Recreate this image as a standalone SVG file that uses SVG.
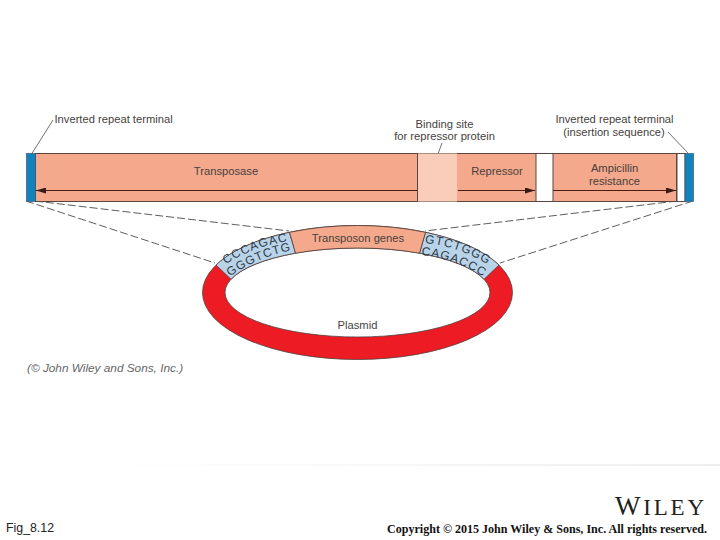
<svg xmlns="http://www.w3.org/2000/svg" width="720" height="540" viewBox="0 0 720 540">
<style>
.l{font-family:"Liberation Sans",Arial,sans-serif;font-size:11.2px;fill:#453f3d}
.m{text-anchor:middle}
.dna{font-family:"Liberation Sans",Arial,sans-serif;font-size:12px;fill:#2c3a48;letter-spacing:1px}
.e{stroke:#5a4640;stroke-width:1}
.b{stroke:#3d5a6a;stroke-width:.7}
.dash{fill:none;stroke:#333;stroke-width:.8;stroke-dasharray:8 3}
.lead{fill:none;stroke:#333;stroke-width:.7}
.arr{fill:none;stroke:#4a1c14;stroke-width:1}
.seg{stroke:#4d3f3a;stroke-width:.8}
</style>
<defs>
<marker id="ah" viewBox="0 0 10 6" refX="10" refY="3" markerWidth="10" markerHeight="6" markerUnits="userSpaceOnUse" orient="auto-start-reverse"><path d="M0 0L10 3L0 6Z" fill="#3a1a14"/></marker>
<linearGradient id="fade" x1="0" x2="1" y1="0" y2="0"><stop offset="0" stop-color="#fff"/><stop offset="1" stop-color="#eeeeee"/></linearGradient>
<path id="p1" d="M223 266Q255 245 291 241"/>
<path id="p2" d="M228 278Q258 256 294 250"/>
<path id="p3" d="M424 243Q458 246 489 265"/>
<path id="p4" d="M421 255Q454 258 484 277"/>
</defs>
<rect width="720" height="540" fill="#fff"/>
<rect x="100" y="464" width="620" height="2" fill="url(#fade)"/>
<g id="connectors">
<path class="dash" d="M26 201L215 263"/>
<path class="dash" d="M35 201L289 231"/>
<path class="dash" d="M677 201L425 231"/>
<path class="dash" d="M693 201L500 263"/>
<path class="lead" d="M53 120L29 158"/>
<path class="lead" d="M668 132L688 153"/>
<path class="lead" d="M442 143L435 162"/>
</g>
<g id="bar">
<rect x="35.500" y="153.500" width="641" height="48" fill="#f5a98c" class="e"/>
<rect x="417.500" y="153.500" width="39.500" height="48" fill="#f9cdb9"/>
<path class="e" d="M417.500 153.500V201.500"/>
<rect x="536" y="153.500" width="17" height="48" fill="#fff" class="e"/>
<rect x="677" y="153.500" width="8" height="48" fill="#fff" class="e"/>
<rect x="26.500" y="153.500" width="9" height="48" fill="#1282bd" class="b"/>
<rect x="685" y="153.500" width="8.500" height="48" fill="#1282bd" class="b"/>
<path class="arr" d="M417 190.500H36" marker-end="url(#ah)"/>
<path class="arr" d="M458 190.500H535" marker-end="url(#ah)"/>
<path class="arr" d="M553 190.500H676" marker-end="url(#ah)"/>
</g>
<g id="plasmid">
<path fill="#ed1c24" fill-rule="evenodd" stroke="#4d3f3a" stroke-width=".8" d="M202.500 292.500A155 67 0 1 1 512.500 292.500A155 67 0 1 1 202.500 292.500ZM225 292.500A132.500 44.500 0 1 0 490 292.500A132.500 44.500 0 1 0 225 292.500Z"/>
<path class="seg" fill="#b9d3e8" d="M216 265A155 67 0 0 1 289.500 232.300L295.500 253.200A132.500 44.500 0 0 0 231 279.300Z"/>
<path class="seg" fill="#b9d3e8" d="M425.500 232.300A155 67 0 0 1 499 265L484 279.300A132.500 44.500 0 0 0 419.500 253.200Z"/>
<path class="seg" fill="#f5a98c" d="M289.500 232.300A155 67 0 0 1 425.500 232.300L419.500 253.200A132.500 44.500 0 0 0 295.500 253.200Z"/>
</g>
<g id="dna">
<text class="dna"><textPath href="#p1" startOffset="50%" text-anchor="middle">CCCAGAC</textPath></text>
<text class="dna"><textPath href="#p2" startOffset="50%" text-anchor="middle">GGGTCTG</textPath></text>
<text class="dna"><textPath href="#p3" startOffset="50%" text-anchor="middle">GTCTGGG</textPath></text>
<text class="dna"><textPath href="#p4" startOffset="50%" text-anchor="middle">CAGACCC</textPath></text>
</g>
<g id="labels">
<text class="l" x="54.500" y="122.500">Inverted repeat terminal</text>
<text class="l m" x="444.500" y="128">Binding site</text>
<text class="l m" x="444.500" y="140">for repressor protein</text>
<text class="l m" x="614.500" y="123">Inverted repeat terminal</text>
<text class="l m" x="614" y="135.500">(insertion sequence)</text>
<text class="l m" x="226" y="174.500">Transposase</text>
<text class="l m" x="497" y="174.500">Repressor</text>
<text class="l m" x="614.500" y="171.500">Ampicillin</text>
<text class="l m" x="614.500" y="184.500">resistance</text>
<text class="l m" x="358" y="241.500">Transposon genes</text>
<text class="l m" x="357.500" y="328.500">Plasmid</text>
<text x="27" y="372" font-family="Liberation Sans,Arial,sans-serif" font-size="11.800" font-style="italic" fill="#666">(© John Wiley and Sons, Inc.)</text>
</g>
<g id="footer">
<text x="6" y="532" font-family="Liberation Sans,Arial,sans-serif" font-size="12" fill="#222" textLength="48" lengthAdjust="spacingAndGlyphs">Fig_8.12</text>
<text x="615" y="515" font-family="Liberation Serif,Times New Roman,serif" font-size="23" fill="#222" textLength="89" lengthAdjust="spacing"><tspan font-size="27">W</tspan>ILEY</text>
<text x="387" y="533" font-family="Liberation Serif,Times New Roman,serif" font-size="12" font-weight="bold" fill="#111" textLength="320" lengthAdjust="spacingAndGlyphs">Copyright © 2015 John Wiley &amp; Sons, Inc. All rights reserved.</text>
</g>
</svg>
